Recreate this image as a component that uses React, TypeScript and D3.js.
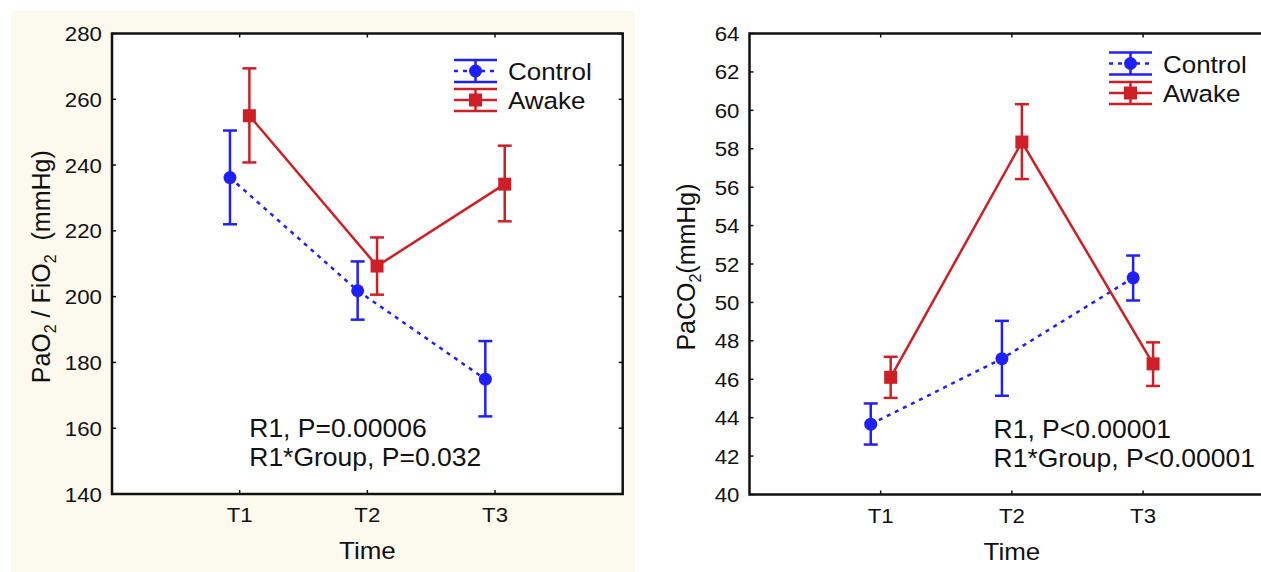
import React, { useRef, useEffect } from 'react';
import * as d3 from 'd3';

// x categories
const timeLabels = ["T1", "T2", "T3"];

// PaO2 / FiO2 panel
const pfTicks = [140, 160, 180, 200, 220, 240, 260, 280];
const pfControlMean = [236.2, 201.8, 174.9];
const pfControlLo = [222.0, 193.0, 163.6];
const pfControlHi = [250.5, 210.7, 186.5];
const pfAwakeMean = [255.0, 209.3, 234.2];
const pfAwakeLo = [240.8, 200.6, 222.9];
const pfAwakeHi = [269.4, 218.0, 245.9];
const pfNotes = ["R1, P=0.00006", "R1*Group, P=0.032"];

// PaCO2 panel
const pcTicks = [40, 42, 44, 46, 48, 50, 52, 54, 56, 58, 60, 62, 64];
const pcControlMean = [43.66, 47.07, 51.28];
const pcControlLo = [42.6, 45.14, 50.1];
const pcControlHi = [44.74, 49.04, 52.44];
const pcAwakeMean = [46.1, 58.35, 46.8];
const pcAwakeLo = [45.03, 56.42, 45.65];
const pcAwakeHi = [47.17, 60.32, 47.92];
const pcNotes = ["R1, P<0.00001", "R1*Group, P<0.00001"];

const legendNames = ["Control", "Awake"];

const BLUE = "#1f1ffa";
const RED = "#cf1f26";
const FONT = "'Liberation Sans', Arial, sans-serif";
const SX = 1.06; // the source text is a little wider than the font

interface Series { mean: number[]; lo: number[]; hi: number[] }
interface LabelPart { t: string; sub?: boolean }

interface PanelProps {
    frame: { x0: number; x1: number; y0: number; y1: number };
    yDomain: [number, number];
    yTicks: number[];
    yLabel: LabelPart[];
    yLabelX: number;
    notes: string[];
    noteX: number;
    legendX: number;
    legendY: number[];
    control: Series;
    awake: Series;
}

type G = d3.Selection<SVGGElement, unknown, null, undefined>;

const addText = (g: G, s: string, x: number, y: number, size: number, anchor = "start") =>
    g.append("text")
        .attr("transform", `translate(${x},${y}) scale(${SX},1)`)
        .attr("text-anchor", anchor)
        .attr("font-family", FONT)
        .attr("font-size", size)
        .attr("fill", "#111")
        .text(s);

const Panel: React.FC<PanelProps> = (p) => {
    const ref = useRef<SVGGElement>(null);

    useEffect(() => {
        if (!ref.current) return;
        const g = d3.select(ref.current) as G;
        g.selectAll("*").remove();

        const { x0, x1, y0, y1 } = p.frame;
        const x = d3.scaleLinear().domain([0, 4]).range([x0, x1]);
        const y = d3.scaleLinear().domain(p.yDomain).range([y1, y0]);
        const off = 0.076;
        const tick = 4;

        // frame
        g.append("rect")
            .attr("x", x0).attr("y", y0)
            .attr("width", x1 - x0).attr("height", y1 - y0)
            .attr("fill", "white").attr("stroke", "#111").attr("stroke-width", 2.5);

        // inward ticks on all four sides
        p.yTicks.forEach(v => {
            g.append("line").attr("x1", x0).attr("x2", x0 + tick)
                .attr("y1", y(v)).attr("y2", y(v)).attr("stroke", "#111").attr("stroke-width", 1.5);
            g.append("line").attr("x1", x1).attr("x2", x1 - tick)
                .attr("y1", y(v)).attr("y2", y(v)).attr("stroke", "#111").attr("stroke-width", 1.5);
            addText(g, String(v), x0 - 10, y(v) + 7.5, 21, "end");
        });
        timeLabels.forEach((t, i) => {
            const xi = x(i + 1);
            g.append("line").attr("x1", xi).attr("x2", xi)
                .attr("y1", y1).attr("y2", y1 - tick).attr("stroke", "#111").attr("stroke-width", 1.5);
            g.append("line").attr("x1", xi).attr("x2", xi)
                .attr("y1", y0).attr("y2", y0 + tick).attr("stroke", "#111").attr("stroke-width", 1.5);
            addText(g, t, xi, y1 + 28, 21, "middle");
        });

        // axis titles
        addText(g, "Time", x(2), y1 + 65, 24.5, "middle");
        const yl = g.append("text")
            .attr("transform", `translate(${p.yLabelX},${(y0 + y1) / 2 + 3}) rotate(-90) scale(1,${SX})`)
            .attr("text-anchor", "middle")
            .attr("font-family", FONT)
            .attr("font-size", 25)
            .attr("fill", "#111")
            .style("white-space", "pre");
        p.yLabel.forEach((part, k) => {
            const prevSub = k > 0 && p.yLabel[k - 1].sub;
            const ts = yl.append("tspan").text(part.t);
            if (part.sub) ts.attr("font-size", 16).attr("dy", 6);
            else if (prevSub) ts.attr("dy", -6);
        });

        // data lines
        const series = [
            { s: p.control, color: BLUE, off: -off, dash: "4 5" },
            { s: p.awake, color: RED, off: off, dash: null as string | null },
        ];
        series.forEach(({ s, color, off, dash }) => {
            const line = d3.line<number>()
                .x((d, i) => x(i + 1 + off))
                .y(d => y(d));
            g.append("path")
                .datum(s.mean)
                .attr("d", line)
                .attr("fill", "none")
                .attr("stroke", color)
                .attr("stroke-width", 2.5)
                .attr("stroke-dasharray", dash);
        });

        // error bars and markers
        const cap = 7;
        series.forEach(({ s, color, off }, k) => {
            s.mean.forEach((m, i) => {
                const xi = x(i + 1 + off);
                g.append("line").attr("x1", xi).attr("x2", xi)
                    .attr("y1", y(s.lo[i])).attr("y2", y(s.hi[i]))
                    .attr("stroke", color).attr("stroke-width", 2.5);
                [s.lo[i], s.hi[i]].forEach(v => {
                    g.append("line").attr("x1", xi - cap).attr("x2", xi + cap)
                        .attr("y1", y(v)).attr("y2", y(v))
                        .attr("stroke", color).attr("stroke-width", 2.5);
                });
                if (k === 0) {
                    g.append("circle").attr("cx", xi).attr("cy", y(m)).attr("r", 6.5).attr("fill", color);
                } else {
                    g.append("rect").attr("x", xi - 6.5).attr("y", y(m) - 6.5)
                        .attr("width", 13).attr("height", 13).attr("fill", color);
                }
            });
        });

        // legend
        const lw = 43;
        const lx = p.legendX;
        legendNames.forEach((name, k) => {
            const cy = p.legendY[k];
            const color = k === 0 ? BLUE : RED;
            [cy - 11, cy + 11].forEach(yy => {
                g.append("line").attr("x1", lx).attr("x2", lx + lw)
                    .attr("y1", yy).attr("y2", yy).attr("stroke", color).attr("stroke-width", 2.5);
            });
            g.append("line").attr("x1", lx + lw / 2).attr("x2", lx + lw / 2)
                .attr("y1", cy - 11).attr("y2", cy + 11).attr("stroke", color).attr("stroke-width", 2.5);
            g.append("line").attr("x1", lx).attr("x2", lx + lw)
                .attr("y1", cy).attr("y2", cy).attr("stroke", color).attr("stroke-width", 2.5)
                .attr("stroke-dasharray", k === 0 ? "4 5" : null);
            if (k === 0) {
                g.append("circle").attr("cx", lx + lw / 2).attr("cy", cy).attr("r", 6.5).attr("fill", color);
            } else {
                g.append("rect").attr("x", lx + lw / 2 - 6.5).attr("y", cy - 6.5)
                    .attr("width", 13).attr("height", 13).attr("fill", color);
            }
            addText(g, name, lx + 54, cy + 9, 24.5);
        });

        // statistics note
        p.notes.forEach((n, k) => addText(g, n, x(p.noteX), y1 - 57 + k * 29, 25));
    }, [p]);

    return <g ref={ref} />;
};

export default function App() {
    return (
        <svg width={1261} height={572} style={{ position: "absolute", left: 0, top: 0, background: "white" }}>
            <rect x={11} y={11} width={624} height={561} fill="#fcfaee" />
            <Panel
                frame={{ x0: 112, x1: 622.7, y0: 33.5, y1: 494 }}
                yDomain={[140, 280]}
                yTicks={pfTicks}
                yLabel={[{ t: "PaO" }, { t: "2", sub: true }, { t: " / FiO" }, { t: "2", sub: true }, { t: "  (mmHg)" }]}
                yLabelX={50}
                notes={pfNotes}
                noteX={1.075}
                legendX={454}
                legendY={[71, 100]}
                control={{ mean: pfControlMean, lo: pfControlLo, hi: pfControlHi }}
                awake={{ mean: pfAwakeMean, lo: pfAwakeLo, hi: pfAwakeHi }}
            />
            <Panel
                frame={{ x0: 749.5, x1: 1274.3, y0: 33.5, y1: 494.5 }}
                yDomain={[40, 64]}
                yTicks={pcTicks}
                yLabel={[{ t: "PaCO" }, { t: "2", sub: true }, { t: "(mmHg)" }]}
                yLabelX={695}
                notes={pcNotes}
                noteX={1.86}
                legendX={1109}
                legendY={[63.5, 93]}
                control={{ mean: pcControlMean, lo: pcControlLo, hi: pcControlHi }}
                awake={{ mean: pcAwakeMean, lo: pcAwakeLo, hi: pcAwakeHi }}
            />
        </svg>
    );
}
